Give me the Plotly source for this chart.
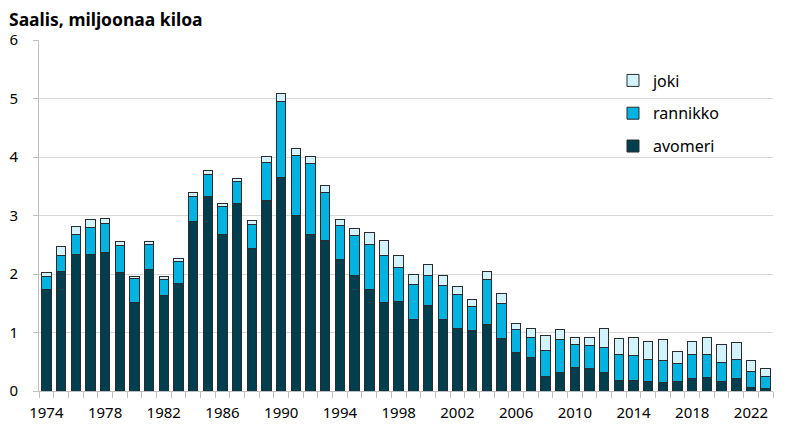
import plotly.graph_objects as go

years = list(range(1974, 2024))
tick_labels = [str(y) if (y - 1974) % 4 == 0 else "" for y in years]

avomeri = [1.73, 2.05, 2.34, 2.34, 2.37, 2.02, 1.52, 2.08, 1.64, 1.84,
           2.90, 3.33, 2.67, 3.21, 2.44, 3.26, 3.65, 3.00, 2.67, 2.58,
           2.25, 1.98, 1.74, 1.52, 1.53, 1.23, 1.46, 1.23, 1.07, 1.03,
           1.14, 0.89, 0.66, 0.58, 0.24, 0.31, 0.41, 0.38, 0.31, 0.18,
           0.18, 0.17, 0.15, 0.16, 0.22, 0.23, 0.17, 0.21, 0.06, 0.04]
rannikko = [0.22, 0.27, 0.33, 0.46, 0.50, 0.46, 0.40, 0.43, 0.27, 0.38,
            0.43, 0.37, 0.48, 0.37, 0.40, 0.65, 1.30, 1.02, 1.22, 0.82,
            0.58, 0.68, 0.76, 0.79, 0.58, 0.59, 0.51, 0.58, 0.58, 0.42,
            0.76, 0.60, 0.39, 0.34, 0.45, 0.57, 0.39, 0.39, 0.44, 0.45,
            0.42, 0.37, 0.37, 0.31, 0.40, 0.39, 0.31, 0.33, 0.27, 0.21]
joki = [0.08, 0.15, 0.15, 0.13, 0.08, 0.07, 0.04, 0.04, 0.04, 0.04,
        0.07, 0.07, 0.06, 0.06, 0.07, 0.10, 0.13, 0.13, 0.12, 0.12,
        0.10, 0.11, 0.21, 0.27, 0.20, 0.17, 0.19, 0.16, 0.14, 0.11,
        0.14, 0.18, 0.11, 0.15, 0.26, 0.17, 0.11, 0.14, 0.32, 0.26,
        0.32, 0.31, 0.36, 0.21, 0.23, 0.30, 0.32, 0.29, 0.19, 0.13]

series = [("avomeri", avomeri, "#023F4E", 3),
          ("rannikko", rannikko, "#00B3E1", 2),
          ("joki", joki, "#D3F3FC", 1)]

FONT = "Noto Sans"
fig = go.Figure()
for name, vals, col, rank in series:
    fig.add_trace(go.Bar(
        x=[str(y) for y in years], y=vals, name=name, legendgroup=name,
        legendrank=rank,
        marker=dict(color=col, line=dict(color="#2b2b2b", width=1)),
    ))

fig.update_layout(
    barmode="stack",
    bargap=0.36,
    width=792, height=424,
    margin=dict(l=31, r=27, t=32, b=41, autoexpand=False),
    paper_bgcolor="white", plot_bgcolor="white",
    font=dict(family=FONT, size=15, color="#000000"),
    title=dict(text="<b>Saalis, miljoonaa kiloa</b>", x=1 / 792, xanchor="left",
               xref="container", y=1 - 12 / 424, yanchor="middle", yref="container",
               pad=dict(l=0, r=0, t=0, b=0),
               font=dict(family=FONT, size=17.5, color="#000000")),
    legend=dict(x=0.782, y=0.933, xanchor="left", yanchor="top",
                traceorder="grouped", tracegroupgap=9,
                font=dict(family=FONT, size=16), bgcolor="rgba(0,0,0,0)"),
    xaxis=dict(type="category", tickmode="array",
               tickvals=[str(y) for y in years], ticktext=tick_labels,
               tickson="boundaries", ticks="outside", ticklen=6,
               tickcolor="#bfbfbf", showline=True, linecolor="#bfbfbf",
               tickangle=0, showgrid=False, automargin=False,
               ticklabelstandoff=8,
               tickfont=dict(family=FONT, size=15)),
    yaxis=dict(range=[0, 6], dtick=1, showgrid=True, gridcolor="#d9d9d9",
               gridwidth=1, showline=True, linecolor="#bfbfbf",
               ticks="outside", ticklen=5, tickcolor="#bfbfbf",
               zeroline=False, automargin=False, ticklabelstandoff=12,
               tickfont=dict(family=FONT, size=15)),
)

fig.write_html("out.html")
